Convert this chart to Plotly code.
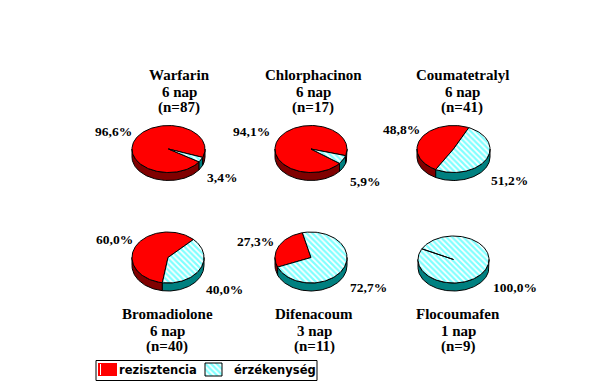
import numpy as np
import plotly.graph_objects as go

# ---------------- data ----------------
drugs = ["Warfarin", "Chlorphacinon", "Coumatetralyl", "Bromadiolone", "Difenacoum", "Flocoumafen"]
days = ["6 nap", "6 nap", "6 nap", "6 nap", "3 nap", "1 nap"]
n_values = [87, 17, 41, 40, 11, 9]
rezisztencia = [96.6, 94.1, 48.8, 60.0, 27.3, 0.0]
erzekenyseg = [3.4, 5.9, 51.2, 40.0, 72.7, 100.0]
series_names = ["rezisztencia", "érzékenység"]

# ---------------- layout (positions in pixel space) ----------------
W, H = 609, 392
pie_cx = [168.5, 311, 453.5, 168, 311, 453.5]
pie_cy = [149, 149, 149, 257.5, 257.5, 259.5]
pie_rx = [36.5, 36, 36.5, 36, 36, 35.5]
pie_ry = [23.5, 23.5, 23.5, 25.5, 25.5, 23.5]
depth = 8
red_center_angle = 153.0

title_x = [179, 313, 462, 167, 314, 458]
title_y = [[75, 92, 107.5]] * 3 + [[314, 330.5, 346]] * 3
red_lab = [(133, 131), (271, 131), (421, 129), (134, 239), (275, 241), None]
cyan_lab = [(206, 177), (349, 181), (490, 180), (205, 289), (349, 287), (492, 287)]

SERIF = "Liberation Serif, Times New Roman, Times, serif"
SANS = "DejaVu Sans, Verdana, sans-serif"

RED, DRED = "#FF0000", "#800000"
CYAN, TEAL = "#00FFFF", "#008080"
hatch = dict(shape="\\", fgcolor=CYAN, bgcolor="white", size=4, solidity=0.55)

fig = go.Figure()


def ell(cx, cy, rx, ry, th, dy=0.0):
    r = np.radians(th)
    return cx + rx * np.cos(r), cy - ry * np.sin(r) + dy


def slice_poly(cx, cy, rx, ry, a1, a2):
    th = np.linspace(a1, a2, max(3, int(abs(a2 - a1) / 2) + 2))
    x, y = ell(cx, cy, rx, ry, th)
    xs = np.concatenate([[cx], x, [cx]])
    ys = np.concatenate([[cy], y, [cy]])
    return xs, ys


def side_polys(cx, cy, rx, ry, a1, a2):
    out = []
    for k in (-1, 0, 1):
        lo, hi = 180 + 360 * k, 360 + 360 * k
        b1, b2 = max(a1, lo), min(a2, hi)
        if b2 > b1:
            th = np.linspace(b1, b2, max(3, int((b2 - b1) / 2) + 2))
            xt, yt = ell(cx, cy, rx, ry, th)
            xb, yb = ell(cx, cy, rx, ry, th[::-1], depth)
            out.append((np.concatenate([xt, xb, [xt[0]]]), np.concatenate([yt, yb, [yt[0]]])))
    return out


def fmt(v):
    return f"{v:.1f}".replace(".", ",") + "%"


annotations = []
for i in range(len(drugs)):
    cx, cy, rx, ry = pie_cx[i], pie_cy[i], pie_rx[i], pie_ry[i]
    pr = rezisztencia[i] / 100.0
    half = pr * 180.0
    slices = []
    if rezisztencia[i] > 0:
        slices.append(("r", red_center_angle - half, red_center_angle + half))
    if erzekenyseg[i] > 0:
        slices.append(("c", red_center_angle + half, red_center_angle - half + 360))
    # side walls first
    for kind, a1, a2 in slices:
        for xs, ys in side_polys(cx, cy, rx, ry, a1, a2):
            fig.add_trace(go.Scatter(x=xs, y=ys, mode="lines", fill="toself",
                                     fillcolor=DRED if kind == "r" else TEAL,
                                     line=dict(color="black", width=1),
                                     hoverinfo="skip", showlegend=False))
    for kind, a1, a2 in slices:
        xs, ys = slice_poly(cx, cy, rx, ry, a1, a2)
        if kind == "r":
            fig.add_trace(go.Scatter(x=xs, y=ys, mode="lines", fill="toself", fillcolor=RED,
                                     line=dict(color="black", width=1),
                                     name=series_names[0], hoverinfo="skip", showlegend=False))
        else:
            fig.add_trace(go.Scatter(x=xs, y=ys, mode="lines", fill="toself", fillpattern=hatch,
                                     line=dict(color="black", width=1),
                                     name=series_names[1], hoverinfo="skip", showlegend=False))
    # titles
    for txt, yy in zip([drugs[i], days[i], f"(n={n_values[i]})"], title_y[i]):
        annotations.append(dict(x=title_x[i], y=yy, text="<b>" + txt + "</b>", showarrow=False,
                                xanchor="center", yanchor="middle", borderpad=0,
                                font=dict(family=SERIF, size=15, color="black")))
    if red_lab[i] is not None and rezisztencia[i] > 0:
        annotations.append(dict(x=red_lab[i][0], y=red_lab[i][1], text="<b>" + fmt(rezisztencia[i]) + "</b>",
                                showarrow=False, xanchor="right", yanchor="middle", borderpad=0,
                                font=dict(family=SERIF, size=13.5, color="black")))
    if erzekenyseg[i] > 0:
        annotations.append(dict(x=cyan_lab[i][0], y=cyan_lab[i][1], text="<b>" + fmt(erzekenyseg[i]) + "</b>",
                                showarrow=False, xanchor="left", yanchor="middle", borderpad=0,
                                font=dict(family=SERIF, size=13.5, color="black")))

# ---------------- legend (drawn manually) ----------------
shapes = [
    dict(type="rect", x0=96, x1=317, y0=360.5, y1=380.5, line=dict(color="black", width=1),
         fillcolor="white", layer="below"),
    dict(type="rect", x0=98, x1=117, y0=363, y1=376, line=dict(width=0), fillcolor=RED),
    dict(type="line", x0=100.5, x1=100.5, y0=364, y1=375, line=dict(color="white", width=1)),
]
fig.add_trace(go.Scatter(x=[205, 222, 222, 205, 205], y=[363, 363, 376, 376, 363], mode="lines",
                         fill="toself", fillpattern=hatch, line=dict(color="black", width=1),
                         hoverinfo="skip", showlegend=False))
annotations.append(dict(x=118, y=370, text="<b>" + series_names[0] + "</b>", showarrow=False, xanchor="left",
                        yanchor="middle", borderpad=0,
                        font=dict(family=SANS, size=11.5, color="black")))
annotations.append(dict(x=233, y=370, text="<b>" + series_names[1] + "</b>", showarrow=False, xanchor="left",
                        yanchor="middle", borderpad=0,
                        font=dict(family=SANS, size=11.5, color="black")))

fig.update_layout(
    width=W, height=H, autosize=False,
    margin=dict(l=0, r=0, t=0, b=0, pad=0),
    paper_bgcolor="white", plot_bgcolor="white",
    xaxis=dict(range=[0, W], visible=False, fixedrange=True),
    yaxis=dict(range=[H, 0], visible=False, fixedrange=True),
    annotations=annotations, shapes=shapes,
    showlegend=False,
)
fig.write_html("out.html", config={"displayModeBar": False},
               post_script="document.body.style.margin='0px';document.body.style.padding='0px';")
